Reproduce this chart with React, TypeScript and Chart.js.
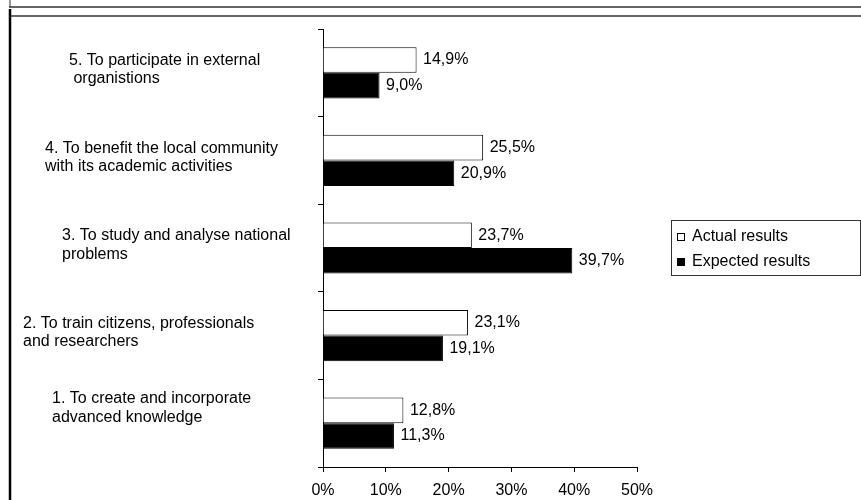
import React, { useEffect, useRef } from "react";
import { Chart, registerables } from "chart.js";

Chart.register(...registerables);

// ---- data ----
const CATEGORIES: string[][] = [
  ["5. To participate in external", " organistions"],
  ["4. To benefit the local community", "with its academic activities"],
  ["3. To study and analyse national", "problems"],
  ["2. To train citizens, professionals", "and researchers"],
  ["1. To create and incorporate", "advanced knowledge"],
];
const ACTUAL: number[] = [14.9, 25.5, 23.7, 23.1, 12.8];
const EXPECTED: number[] = [9.0, 20.9, 39.7, 19.1, 11.3];
const SERIES_NAMES = ["Actual results", "Expected results"];
const X_TICKS: number[] = [0, 10, 20, 30, 40, 50];

// ---- layout (not data) ----
const FONT = '16px "Liberation Sans", Arial, sans-serif';
const LABEL_LEFT = [69, 45, 62, 23, 52];
const LABEL_DY = [-3, -3, -3, -3, -15];
const LINE_GAP = 18.5;

const fmt = (v: number) => v.toFixed(1).replace(".", ",") + "%";

const framePlugin = {
  id: "frame",
  beforeDraw(chart: any) {
    const ctx = chart.ctx;
    ctx.save();
    ctx.fillStyle = "#fff";
    ctx.fillRect(0, 0, chart.width, chart.height);
    ctx.strokeStyle = "#333";
    ctx.lineWidth = 1.5;
    ctx.beginPath();
    ctx.moveTo(9, 7);
    ctx.lineTo(chart.width, 7);
    ctx.moveTo(11, 16);
    ctx.lineTo(chart.width, 16);
    ctx.stroke();
    ctx.lineWidth = 1;
    ctx.beginPath();
    ctx.moveTo(10, 0);
    ctx.lineTo(10, 7);
    ctx.stroke();
    ctx.strokeStyle = "#000";
    ctx.lineWidth = 2.5;
    ctx.beginPath();
    ctx.moveTo(10, 9);
    ctx.lineTo(10, chart.height);
    ctx.stroke();
    ctx.restore();
  },
};

const labelsPlugin = {
  id: "catLabels",
  afterDraw(chart: any) {
    const ctx = chart.ctx;
    const yScale = chart.scales.y;
    ctx.save();
    ctx.font = FONT;
    ctx.fillStyle = "#000";
    ctx.textBaseline = "middle";
    ctx.textAlign = "left";
    CATEGORIES.forEach((lines, i) => {
      const cy = yScale.getPixelForValue(i) + LABEL_DY[i];
      const n = lines.length;
      lines.forEach((ln, j) => {
        const y = cy + (j - (n - 1) / 2) * LINE_GAP;
        ctx.fillText(ln, LABEL_LEFT[i], y);
      });
    });
    // data labels
    chart.data.datasets.forEach((ds: any, di: number) => {
      const meta = chart.getDatasetMeta(di);
      meta.data.forEach((el: any, i: number) => {
        ctx.fillText(fmt(ds.data[i]), el.x + 6.5, el.y);
      });
    });
    // legend
    const lx = 671.5, ly = 220.5, lw = 189, lh = 55;
    ctx.strokeStyle = "#333";
    ctx.lineWidth = 1;
    ctx.strokeRect(lx, ly, lw, lh);
    const rows = [237, 262];
    SERIES_NAMES.forEach((name, i) => {
      const ds = chart.data.datasets[i];
      ctx.fillStyle = ds.backgroundColor;
      ctx.fillRect(677, rows[i] - 4, 8, 8);
      ctx.strokeStyle = "#000";
      ctx.strokeRect(677.5, rows[i] - 3.5, 7, 7);
      ctx.fillStyle = "#000";
      ctx.fillText(name, 692, rows[i]);
    });
    ctx.restore();
  },
};

export default function App() {
  const ref = useRef<HTMLCanvasElement | null>(null);
  useEffect(() => {
    if (!ref.current) return;
    const chart = new Chart(ref.current, {
      type: "bar",
      data: {
        labels: CATEGORIES.map((l) => l.join(" ")),
        datasets: [
          {
            label: SERIES_NAMES[0],
            data: ACTUAL,
            backgroundColor: "#ffffff",
            borderColor: "#000000",
            borderWidth: 1,
            categoryPercentage: 0.585,
            barPercentage: 1,
          },
          {
            label: SERIES_NAMES[1],
            data: EXPECTED,
            backgroundColor: "#000000",
            borderColor: "#000000",
            borderWidth: 1,
            categoryPercentage: 0.585,
            barPercentage: 1,
          },
        ],
      },
      options: {
        indexAxis: "y",
        responsive: false,
        animation: false,
        devicePixelRatio: 1,
        layout: { padding: { top: 29, right: 224, bottom: 0, left: 0 } },
        plugins: {
          legend: { display: false },
          tooltip: { enabled: false },
        },
        scales: {
          x: {
            type: "linear",
            min: 0,
            max: 50,
            afterBuildTicks: (s: any) => {
              s.ticks = X_TICKS.map((v) => ({ value: v }));
            },
            ticks: {
              callback: (v: any) => v + "%",
              font: { family: '"Liberation Sans", Arial, sans-serif', size: 16 },
              color: "#000",
              padding: 9,
              maxRotation: 0,
            },
            grid: {
              drawOnChartArea: false,
              drawTicks: true,
              tickLength: 5,
              color: "#000",
            },
            border: { color: "#000", width: 1 },
            afterFit: (s: any) => {
              s.height = 33;
            },
          },
          y: {
            type: "category",
            offset: true,
            ticks: { display: false },
            grid: {
              offset: true,
              drawOnChartArea: false,
              drawTicks: true,
              tickLength: 5,
              color: "#000",
            },
            border: { color: "#000", width: 1 },
            afterFit: (s: any) => {
              s.width = 323;
            },
          },
        },
      } as any,
      plugins: [framePlugin, labelsPlugin],
    });
    return () => chart.destroy();
  }, []);
  return (
    <div style={{ position: "absolute", left: 0, top: 0, width: 861, height: 500, background: "#fff" }}>
      <canvas ref={ref} width={861} height={500} style={{ width: 861, height: 500, display: "block" }} />
    </div>
  );
}
